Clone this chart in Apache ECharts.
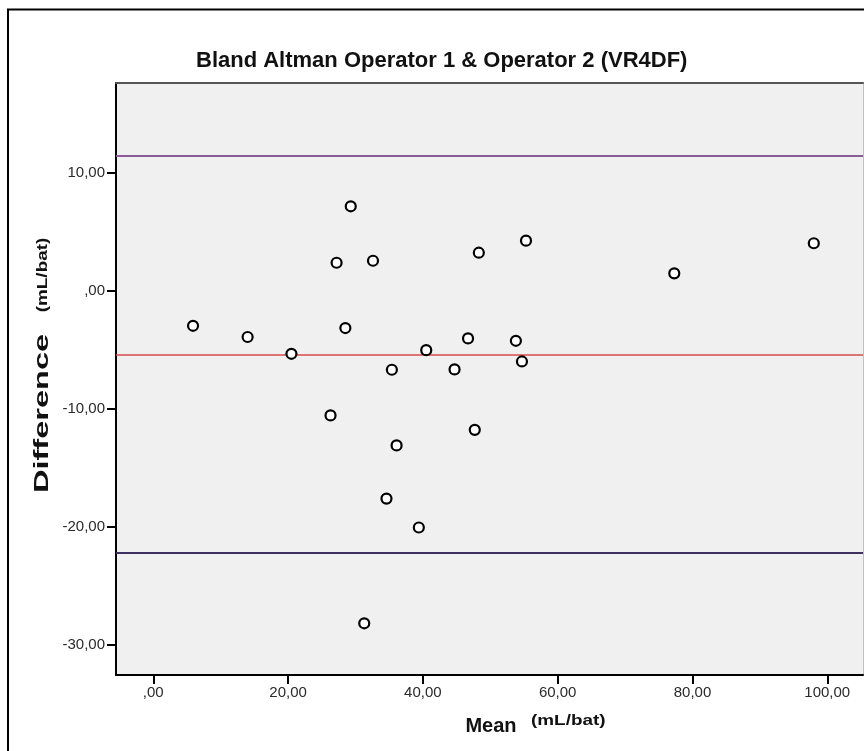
<!DOCTYPE html>
<html>
<head>
<meta charset="utf-8">
<script src="https://cdn.jsdelivr.net/npm/echarts@6/dist/echarts.min.js"></script>
<style>
html,body{margin:0;padding:0;background:#fff;}
#chart{width:864px;height:751px;}
</style>
</head>
<body>
<div id="chart"></div>
<script>
// ---- data ----
const titleText = 'Bland Altman Operator 1 & Operator 2 (VR4DF)';
const meanX = [29.3, 27.2, 32.6, 5.9, 14.0, 28.5, 20.5, 35.4, 26.3, 36.1,
               48.3, 55.3, 46.7, 53.8, 40.5, 54.7, 44.7, 47.7, 77.3, 98.0,
               34.6, 39.4, 31.3];
const diffY = [7.15, 2.37, 2.54, -2.97, -3.92, -3.16, -5.34, -6.69, -10.56, -13.1,
               3.22, 4.24, -4.04, -4.24, -5.03, -5.99, -6.66, -11.78, 1.47, 4.02,
               -17.6, -20.05, -28.16];
const upperLoA = 11.42;
const meanDiff = -5.42;
const lowerLoA = -22.2;
const xTicks = [0, 20, 40, 60, 80, 100];
const xTickLabels = [',00', '20,00', '40,00', '60,00', '80,00', '100,00'];
const yTicks = [-30, -20, -10, 0, 10];
const yTickLabels = ['-30,00', '-20,00', '-10,00', ',00', '10,00'];
const xName = 'Mean';
const yName = 'Difference';
const unitName = '(mL/bat)';

// ---- chart ----
const FONT = '"Liberation Sans", Arial, sans-serif';
const chart = echarts.init(document.getElementById('chart'), null, {renderer: 'canvas'});
const pts = meanX.map((x, i) => [x, diffY[i]]);
const fmt = (ticks, labels) => v => {
  const i = ticks.findIndex(t => Math.abs(t - v) < 1e-6);
  return i >= 0 ? labels[i] : '';
};

chart.setOption({
  animation: false,
  backgroundColor: '#ffffff',
  title: {
    text: titleText,
    left: 196,
    top: 50,
    padding: 0,
    textStyle: {fontFamily: FONT, fontSize: 22, fontWeight: 'bold', color: '#111'}
  },
  grid: {left: 116, right: 1, top: 83, bottom: 76, show: true, backgroundColor: '#F0F0F0', borderWidth: 0},
  xAxis: [{
    type: 'value', min: -5.53, max: 105.3, position: 'bottom',
    axisLine: {show: true, onZero: false, lineStyle: {color: '#000', width: 2}},
    axisTick: {show: true, length: 9, lineStyle: {color: '#000', width: 2}, customValues: xTicks},
    axisLabel: {show: true, margin: 10, fontFamily: FONT, fontSize: 15, color: '#2a2a2a',
                customValues: xTicks, formatter: fmt(xTicks, xTickLabels)},
    splitLine: {show: false}
  }, {
    type: 'value', min: -5.53, max: 105.3, position: 'top',
    axisLine: {show: true, onZero: false, lineStyle: {color: '#555', width: 2}},
    axisTick: {show: false}, axisLabel: {show: false}, splitLine: {show: false}
  }],
  yAxis: [{
    type: 'value', min: -32.54, max: 17.59, position: 'left',
    axisLine: {show: true, onZero: false, lineStyle: {color: '#000', width: 2}},
    axisTick: {show: true, length: 9, lineStyle: {color: '#000', width: 2}, customValues: yTicks},
    axisLabel: {show: true, margin: 11, fontFamily: FONT, fontSize: 15, color: '#2a2a2a',
                customValues: yTicks, formatter: fmt(yTicks, yTickLabels)},
    splitLine: {show: false}
  }, {
    type: 'value', min: -32.54, max: 17.59, position: 'right',
    axisLine: {show: true, onZero: false, lineStyle: {color: '#c0c0c0', width: 1}},
    axisTick: {show: false}, axisLabel: {show: false}, splitLine: {show: false}
  }],
  series: [{
    type: 'scatter',
    xAxisIndex: 0, yAxisIndex: 0,
    data: pts,
    symbol: 'circle',
    symbolSize: 10,
    z: 3,
    itemStyle: {color: '#ffffff', borderColor: '#000', borderWidth: 2.2, opacity: 1},
    markLine: {
      silent: true, symbol: 'none', z: 1,
      label: {show: false},
      data: [
        {yAxis: upperLoA, lineStyle: {color: '#8B5C98', width: 2, type: 'solid'}},
        {yAxis: meanDiff, lineStyle: {color: '#D64B4B', width: 1.5, type: 'solid'}},
        {yAxis: lowerLoA, lineStyle: {color: '#3E3160', width: 2, type: 'solid'}}
      ]
    }
  }],
  graphic: [
    {type: 'rect', silent: true, z: 100,
     shape: {x: 8, y: 9.5, width: 900, height: 800},
     style: {fill: 'none', stroke: '#000', lineWidth: 2}},
    {type: 'text', silent: true, x: 491, y: 726,
     style: {text: xName, fontFamily: FONT, fontSize: 20, fontWeight: 'bold', fill: '#111',
             align: 'center', verticalAlign: 'middle'}},
    {type: 'text', silent: true, x: 531, y: 721, scaleX: 1.35, originX: 0, originY: 0,
     style: {text: unitName, fontFamily: FONT, fontSize: 14, fontWeight: 'bold', fill: '#111',
             align: 'left', verticalAlign: 'middle'}},
    {type: 'text', silent: true, x: 42, y: 413.5, rotation: Math.PI / 2, scaleX: 1.55,
     style: {text: yName, fontFamily: FONT, fontSize: 21, fontWeight: 'bold', fill: '#111',
             align: 'center', verticalAlign: 'middle'}},
    {type: 'text', silent: true, x: 43, y: 275, rotation: Math.PI / 2, scaleX: 1.35,
     style: {text: unitName, fontFamily: FONT, fontSize: 14, fontWeight: 'bold', fill: '#111',
             align: 'center', verticalAlign: 'middle'}}
  ]
});
</script>
</body>
</html>
